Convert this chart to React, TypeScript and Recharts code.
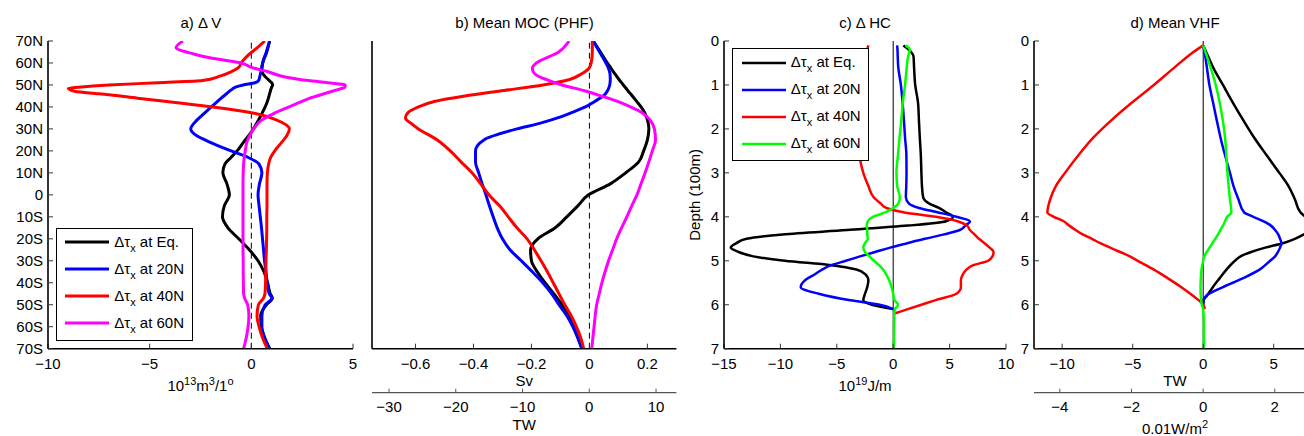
import React from "react";
import { LineChart, Line, XAxis, YAxis, ReferenceLine, Legend } from "recharts";

const FONT = '"Liberation Sans", Arial, Helvetica, sans-serif';
const H = 436;
const PLOT_TOP = 41;
const PLOT_BOTTOM = 348.7;
const LEFT_SPACE = 60;
const RIGHT_SPACE = 10;

const LEGEND_NAMES = ["Eq.", "20N", "40N", "60N"];
const COLORS_AB = ["#000000", "#0000ff", "#ff0000", "#ff00ff"];
const COLORS_CD = ["#000000", "#0000ff", "#ff0000", "#00ff00"];

const LAT_TICKS = [70, 60, 50, 40, 30, 20, 10, 0, -10, -20, -30, -40, -50, -60, -70];
const DEPTH_TICKS = [0, 1, 2, 3, 4, 5, 6, 7];

// a) delta V, 10^13 m^3 per degree
const LAT_A = [70, 67, 64, 62, 60, 58, 56, 54, 52, 51, 50, 49, 48.5, 48, 47, 46, 44, 42, 40, 37, 34, 30, 27, 24, 20, 17, 14, 10, 5, 0, -5, -10, -15, -20, -25, -30, -35, -40, -45, -47, -50, -55, -60, -65, -70];
const DV_EQ = [0.9, 0.82, 0.72, 0.63, 0.56, 0.52, 0.53, 0.66, 0.88, 1.0, 1.05, 1.0, 0.98, 0.96, 0.93, 0.9, 0.84, 0.77, 0.68, 0.52, 0.35, 0.1, -0.12, -0.38, -0.7, -1.0, -1.3, -1.4, -1.2, -1.08, -1.33, -1.42, -1.15, -0.62, -0.1, 0.33, 0.62, 0.8, 0.93, 1.03, 0.74, 0.46, 0.49, 0.66, 0.9];
const DV_20 = [0.9, 0.8, 0.7, 0.62, 0.56, 0.52, 0.47, 0.42, 0.36, 0.18, -0.4, -0.78, -0.88, -0.95, -1.1, -1.22, -1.48, -1.73, -1.97, -2.33, -2.68, -2.98, -2.7, -2.05, -1.0, -0.15, 0.38, 0.52, 0.4, 0.33, 0.38, 0.44, 0.5, 0.55, 0.6, 0.65, 0.72, 0.78, 0.88, 1.02, 0.68, 0.52, 0.52, 0.64, 0.9];
const DV_40 = [0.66, 0.3, -0.1, -0.32, -0.5, -0.62, -1.0, -1.55, -2.4, -4.6, -7.0, -8.5, -9.0, -8.95, -8.65, -7.5, -5.6, -3.75, -1.9, 0.2, 1.25, 1.87, 1.75, 1.5, 1.15, 0.95, 0.85, 0.79, 0.77, 0.77, 0.77, 0.76, 0.76, 0.75, 0.74, 0.72, 0.71, 0.7, 0.67, 0.6, 0.35, 0.28, 0.38, 0.55, 0.79];
const DV_60 = [-3.36, -3.7, -2.8, -1.85, -0.5, 0.0, 0.82, 1.5, 2.8, 3.75, 4.62, 4.6, 4.47, 4.3, 3.94, 3.58, 2.88, 2.35, 1.86, 1.1, 0.5, 0.12, -0.08, -0.22, -0.3, -0.35, -0.38, -0.4, -0.41, -0.41, -0.41, -0.41, -0.41, -0.41, -0.41, -0.4, -0.4, -0.39, -0.38, -0.33, -0.18, -0.12, -0.16, -0.25, -0.38];

// b) mean MOC, Sv
const LAT_B = [70, 65, 60, 57.5, 55, 52.5, 50, 47.5, 45, 42.5, 40, 37.5, 35, 32.5, 30, 25, 20, 15, 10, 5, 0, -5, -10, -15, -20, -25, -30, -35, -40, -45, -50, -55, -60, -65, -70];
const MOC_EQ = [0.013, 0.038, 0.062, 0.075, 0.088, 0.102, 0.117, 0.132, 0.148, 0.163, 0.178, 0.19, 0.198, 0.203, 0.205, 0.2, 0.187, 0.17, 0.125, 0.072, -0.003, -0.04, -0.078, -0.118, -0.178, -0.203, -0.2, -0.18, -0.153, -0.123, -0.095, -0.072, -0.055, -0.04, -0.026];
const MOC_20 = [0.013, 0.035, 0.057, 0.066, 0.071, 0.072, 0.07, 0.063, 0.048, 0.018, -0.014, -0.06, -0.11, -0.172, -0.25, -0.364, -0.393, -0.393, -0.382, -0.37, -0.357, -0.345, -0.332, -0.318, -0.3, -0.274, -0.235, -0.197, -0.161, -0.13, -0.105, -0.078, -0.057, -0.04, -0.026];
const MOC_40 = [0.01, 0.01, 0.006, -0.002, -0.028, -0.068, -0.16, -0.295, -0.43, -0.535, -0.59, -0.625, -0.635, -0.615, -0.59, -0.525, -0.48, -0.443, -0.405, -0.375, -0.347, -0.31, -0.28, -0.25, -0.215, -0.19, -0.167, -0.145, -0.125, -0.105, -0.085, -0.063, -0.045, -0.03, -0.02];
const MOC_60 = [-0.07, -0.106, -0.183, -0.197, -0.188, -0.15, -0.095, -0.02, 0.04, 0.097, 0.142, 0.18, 0.203, 0.217, 0.224, 0.228, 0.217, 0.205, 0.192, 0.178, 0.164, 0.146, 0.129, 0.111, 0.094, 0.08, 0.066, 0.054, 0.043, 0.034, 0.025, 0.02, 0.016, 0.012, 0.008];

// c) delta HC, 10^19 J/m
const DEPTH_C = [0.1, 0.2, 0.35, 0.6, 1.0, 1.4, 1.8, 2.2, 2.6, 3.0, 3.3, 3.55, 3.7, 3.8, 3.9, 4.0, 4.1, 4.2, 4.3, 4.4, 4.5, 4.6, 4.7, 4.8, 4.9, 5.0, 5.1, 5.2, 5.3, 5.45, 5.6, 5.75, 5.9, 6.0, 6.1, 6.2, 6.5, 7.0];
const HC_EQ = [0.9, 1.4, 1.8, 1.85, 1.95, 2.2, 2.28, 2.36, 2.45, 2.5, 2.55, 2.65, 3.2, 4.1, 4.7, 5.3, 4.7, 1.3, -4.1, -9.8, -13.0, -13.9, -14.4, -13.7, -12.4, -9.6, -5.5, -3.25, -2.5, -2.2, -2.3, -2.5, -2.65, -1.9, 0, null, null, null];
const HC_20 = [0.35, 0.38, 0.4, 0.45, 0.68, 0.83, 0.95, 1.05, 1.17, 1.18, 1.16, 1.12, 1.4, 2.3, 4.0, 5.6, 6.8, 6.4, 5.9, 4.5, 2.8, 1.25, -0.26, -1.6, -2.94, -4.2, -5.5, -6.3, -6.9, -7.85, -8.2, -6.6, -3.8, -1.2, 0, null, null, null];
const HC_40 = [-2.2, -2.3, -2.4, -2.5, -2.6, -2.7, -2.8, -2.85, -2.95, -2.65, -2.2, -1.75, -1.1, -0.6, 1.0, 3.8, 5.7, 6.55, 6.8, 7.2, 7.6, 8.1, 8.55, 8.9, 8.8, 8.4, 7.1, 6.5, 6.2, 6.0, 6.0, 5.6, 3.7, 2.5, 1.3, 0.1, null, null];
const HC_60 = [1.1, 1.47, 1.32, 1.2, 1.05, 0.85, 0.72, 0.56, 0.42, 0.29, 0.35, 0.59, 0.45, 0.0, -0.7, -1.8, -2.25, -2.35, -2.3, -2.3, -2.25, -2.5, -2.65, -2.5, -2.1, -1.7, -1.25, -0.9, -0.65, -0.35, -0.15, 0.0, 0.12, 0.44, 0.15, 0.1, 0.08, 0.06];

// d) mean VHF, TW
const DEPTH_D = [0.1, 0.3, 0.6, 1.0, 1.4, 1.8, 2.2, 2.6, 3.0, 3.3, 3.6, 3.9, 4.0, 4.1, 4.2, 4.3, 4.4, 4.5, 4.6, 4.7, 4.8, 4.9, 5.0, 5.2, 5.4, 5.6, 5.8, 5.9, 6.0, 6.1, 6.5, 7.0];
const VHF_EQ = [0, 0.28, 0.7, 1.4, 2.1, 2.84, 3.62, 4.5, 5.4, 6.05, 6.5, 6.9, 7.25, 7.7, 7.9, 7.6, 7.14, 6.5, 5.65, 4.4, 3.4, 2.65, 2.25, 1.65, 1.16, 0.68, 0.25, 0.02, 0, null, null, null];
const VHF_20 = [0, 0.12, 0.26, 0.44, 0.7, 0.96, 1.23, 1.55, 1.9, 2.15, 2.5, 2.9, 3.55, 4.25, 4.8, 5.1, 5.32, 5.45, 5.55, 5.45, 5.3, 5.1, 4.75, 4.0, 2.8, 1.4, 0.2, 0.03, 0, null, null, null];
const VHF_40 = [0, -0.9, -2.03, -3.5, -5.05, -6.5, -7.8, -8.85, -9.8, -10.45, -10.85, -11.05, -10.6, -9.9, -9.5, -9.05, -8.55, -7.9, -7.3, -6.6, -5.9, -5.2, -4.65, -3.5, -2.5, -1.55, -0.7, -0.3, 0, 0.12, null, null];
const VHF_60 = [0, 0.21, 0.52, 0.89, 1.17, 1.39, 1.55, 1.64, 1.72, 1.8, 1.9, 2.0, 1.7, 1.55, 1.4, 1.22, 1.05, 0.85, 0.65, 0.45, 0.25, 0.08, 0.0, -0.12, -0.17, -0.19, -0.17, -0.14, -0.1, 0.0, 0.05, 0.05];

type Part = [string, boolean?];

type SecondAxis = { domain: [number, number]; ticks: number[]; label: Part[]; labelDy: number };

type PanelDef = {
  title: string;
  plotLeft: number;
  plotWidth: number;
  yValues: number[];
  series: (number | null)[][];
  colors: string[];
  lineWidth: number;
  yDomain: [number, number];
  yTicks: number[];
  yReversed?: boolean;
  yFormat?: (v: number) => string;
  yLabel?: string;
  xDomain: [number, number];
  xTicks: number[];
  xLabel: Part[];
  xLabelDy: number;
  second?: SecondAxis;
  zeroDash?: string;
  legend?: { left: number; top: number; lineWidth: number };
};

const fmtNum = (v: number) => (v < 0 ? "\u2212" + Math.abs(v) : String(v));
const fmtLat = (v: number) => (v > 0 ? `${v}N` : v < 0 ? `${-v}S` : "0");

const AXIS_LINE = { stroke: "#000", strokeWidth: 1.6 };
const TICK_LINE = { stroke: "#333", strokeWidth: 1 };
const TICK_TEXT = { fill: "#000", fontSize: 15 };

function richText(parts: Part[]) {
  let up = false;
  return parts.map(([s, sup], i) => {
    const dy = sup && !up ? -6 : !sup && up ? 6 : 0;
    up = !!sup;
    return (
      <tspan key={i} dy={dy} fontSize={sup ? 11 : 15}>
        {s}
      </tspan>
    );
  });
}

function LegendBox({ colors, lineWidth }: { colors: string[]; lineWidth: number }) {
  return (
    <div
      style={{
        width: 137,
        height: 113,
        boxSizing: "border-box",
        border: "1.5px solid #000",
        background: "#fff",
        fontFamily: FONT,
      }}
    >
      {LEGEND_NAMES.map((n, i) => (
        <div
          key={n}
          style={{ height: 27, display: "flex", alignItems: "center", fontSize: 15, lineHeight: "15px", whiteSpace: "nowrap" }}
        >
          <svg width={44} height={6} style={{ display: "block", marginLeft: 8.5, marginRight: 5 }}>
            <line x1={0} x2={44} y1={3} y2={3} stroke={colors[i]} strokeWidth={lineWidth} />
          </svg>
          <span>
            Δτ<span style={{ fontSize: 11, position: "relative", top: 5 }}>x</span> at {n}
          </span>
        </div>
      ))}
    </div>
  );
}

function Panel({ p }: { p: PanelDef }) {
  const rows = p.yValues.map((y, i) => {
    const r: Record<string, number | null> = { y };
    p.series.forEach((vals, k) => {
      r[`s${k}`] = vals[i];
    });
    return r;
  });
  const width = p.plotWidth + LEFT_SPACE + RIGHT_SPACE;
  const cx = LEFT_SPACE + p.plotWidth / 2;
  const mainHeight = p.second ? 44 : H - PLOT_BOTTOM;
  const secondHeight = H - PLOT_BOTTOM - 44;
  const xLabel = () => (
    <text x={cx} y={PLOT_BOTTOM + p.xLabelDy} textAnchor="middle" fontSize={15} fill="#000">
      {richText(p.xLabel)}
    </text>
  );
  const yLabel = () => {
    const x = LEFT_SPACE - 24;
    const y = (PLOT_TOP + PLOT_BOTTOM) / 2;
    return (
      <text x={x} y={y} transform={`rotate(-90 ${x} ${y})`} textAnchor="middle" fontSize={15} fill="#000">
        {p.yLabel}
      </text>
    );
  };

  return (
    <div style={{ position: "absolute", left: p.plotLeft - LEFT_SPACE, top: 0 }}>
      <div
        style={{
          position: "absolute",
          left: LEFT_SPACE,
          width: p.plotWidth,
          top: 15.3,
          textAlign: "center",
          fontSize: 15,
          lineHeight: "15px",
          whiteSpace: "nowrap",
        }}
      >
        {p.title}
      </div>
      <LineChart
        layout="vertical"
        width={width}
        height={H}
        data={rows}
        margin={{ top: PLOT_TOP, right: RIGHT_SPACE, bottom: 0, left: 0 }}
      >
        <XAxis
          xAxisId="top"
          orientation="top"
          type="number"
          domain={p.xDomain}
          ticks={p.xTicks}
          allowDataOverflow
          height={0}
          tick={false}
          tickSize={-5}
          axisLine={AXIS_LINE}
          tickLine={TICK_LINE}
        />
        <XAxis
          type="number"
          domain={p.xDomain}
          ticks={p.xTicks}
          interval={0}
          allowDataOverflow
          height={mainHeight}
          tickSize={-5}
          tickMargin={14.3}
          tick={TICK_TEXT}
          tickFormatter={fmtNum}
          axisLine={AXIS_LINE}
          tickLine={TICK_LINE}
          label={xLabel}
        />
        {p.second && (
          <XAxis
            xAxisId="second"
            type="number"
            domain={p.second.domain}
            ticks={p.second.ticks}
            interval={0}
            allowDataOverflow
            height={secondHeight}
            tickSize={-4}
            tickMargin={12.9}
            tick={TICK_TEXT}
            tickFormatter={fmtNum}
            axisLine={{ stroke: "#555", strokeWidth: 1.2 }}
            tickLine={{ stroke: "#555", strokeWidth: 1 }}
            label={() => (
              <text x={cx} y={PLOT_BOTTOM + 44 + p.second!.labelDy} textAnchor="middle" fontSize={15} fill="#000">
                {richText(p.second!.label)}
              </text>
            )}
          />
        )}
        <YAxis
          type="number"
          dataKey="y"
          domain={p.yDomain}
          reversed={p.yReversed}
          ticks={p.yTicks}
          interval={0}
          allowDataOverflow
          width={LEFT_SPACE}
          tickSize={-5}
          tickMargin={10}
          tick={p.yFormat ? TICK_TEXT : false}
          tickFormatter={p.yFormat}
          axisLine={AXIS_LINE}
          tickLine={TICK_LINE}
          label={p.yLabel ? yLabel : undefined}
        />
        <YAxis
          yAxisId="right"
          orientation="right"
          type="number"
          dataKey="y"
          domain={p.yDomain}
          reversed={p.yReversed}
          ticks={p.yTicks}
          allowDataOverflow
          width={0}
          tickSize={-5}
          tick={false}
          axisLine={AXIS_LINE}
          tickLine={TICK_LINE}
        />
        <ReferenceLine x={0} stroke="#000" strokeWidth={1} strokeDasharray={p.zeroDash} />
        {p.series.map((_, k) => (
          <Line
            key={k}
            dataKey={`s${k}`}
            type="monotone"
            stroke={p.colors[k]}
            strokeWidth={p.lineWidth}
            dot={false}
            activeDot={false}
            isAnimationActive={false}
          />
        ))}
        {p.legend && (
          <Legend
            layout="vertical"
            align="center"
            verticalAlign="middle"
            wrapperStyle={{ left: p.legend.left - (p.plotLeft - LEFT_SPACE), top: p.legend.top, width: 137, height: 113 }}
            content={() => <LegendBox colors={p.colors} lineWidth={p.legend!.lineWidth} />}
          />
        )}
      </LineChart>
    </div>
  );
}

// vertical layout puts small values at the top, so the latitude axes are reversed
const PANELS: PanelDef[] = [
  {
    title: "a) Δ V",
    plotLeft: 48.3,
    plotWidth: 305,
    yValues: LAT_A,
    series: [DV_EQ, DV_20, DV_40, DV_60],
    colors: COLORS_AB,
    lineWidth: 3,
    yDomain: [-70, 70],
    yTicks: LAT_TICKS,
    yReversed: true,
    yFormat: fmtLat,
    xDomain: [-10, 5],
    xTicks: [-10, -5, 0, 5],
    xLabel: [["10"], ["13", true], ["m"], ["3", true], ["/1"], ["o", true]],
    xLabelDy: 42.5,
    zeroDash: "6 4",
    legend: { left: 55.7, top: 227.7, lineWidth: 3 },
  },
  {
    title: "b) Mean MOC (PHF)",
    plotLeft: 372.3,
    plotWidth: 304.4,
    yValues: LAT_B,
    series: [MOC_EQ, MOC_20, MOC_40, MOC_60],
    colors: COLORS_AB,
    lineWidth: 3,
    yDomain: [-70, 70],
    yTicks: LAT_TICKS,
    yReversed: true,
    xDomain: [-0.75, 0.3],
    xTicks: [-0.6, -0.4, -0.2, 0, 0.2],
    xLabel: [["Sv"]],
    xLabelDy: 37.8,
    second: { domain: [-32.55, 13.05], ticks: [-30, -20, -10, 0, 10], label: [["TW"]], labelDy: 37.3 },
    zeroDash: "6 4",
  },
  {
    title: "c) Δ HC",
    plotLeft: 724,
    plotWidth: 282,
    yValues: DEPTH_C,
    series: [HC_EQ, HC_20, HC_40, HC_60],
    colors: COLORS_CD,
    lineWidth: 2.5,
    yDomain: [0, 7],
    yTicks: DEPTH_TICKS,
    yFormat: fmtNum,
    yLabel: "Depth (100m)",
    xDomain: [-15, 10],
    xTicks: [-15, -10, -5, 0, 5, 10],
    xLabel: [["10"], ["19", true], ["J/m"]],
    xLabelDy: 42.3,
    legend: { left: 732.3, top: 48.3, lineWidth: 2.5 },
  },
  {
    title: "d) Mean VHF",
    plotLeft: 1034,
    plotWidth: 282,
    yValues: DEPTH_D,
    series: [VHF_EQ, VHF_20, VHF_40, VHF_60],
    colors: COLORS_CD,
    lineWidth: 2.5,
    yDomain: [0, 7],
    yTicks: DEPTH_TICKS,
    yFormat: fmtNum,
    xDomain: [-12, 8],
    xTicks: [-10, -5, 0, 5],
    xLabel: [["TW"]],
    xLabelDy: 37.3,
    second: { domain: [-4.72, 3.15], ticks: [-4, -2, 0, 2], label: [["0.01W/m"], ["2", true]], labelDy: 41 },
  },
];

export default function App() {
  return (
    <div
      style={{
        position: "absolute",
        left: 0,
        top: 0,
        width: 1304,
        height: 436,
        overflow: "hidden",
        background: "#fff",
        fontFamily: FONT,
        color: "#000",
      }}
    >
      {PANELS.map((p) => (
        <Panel key={p.title} p={p} />
      ))}
    </div>
  );
}
